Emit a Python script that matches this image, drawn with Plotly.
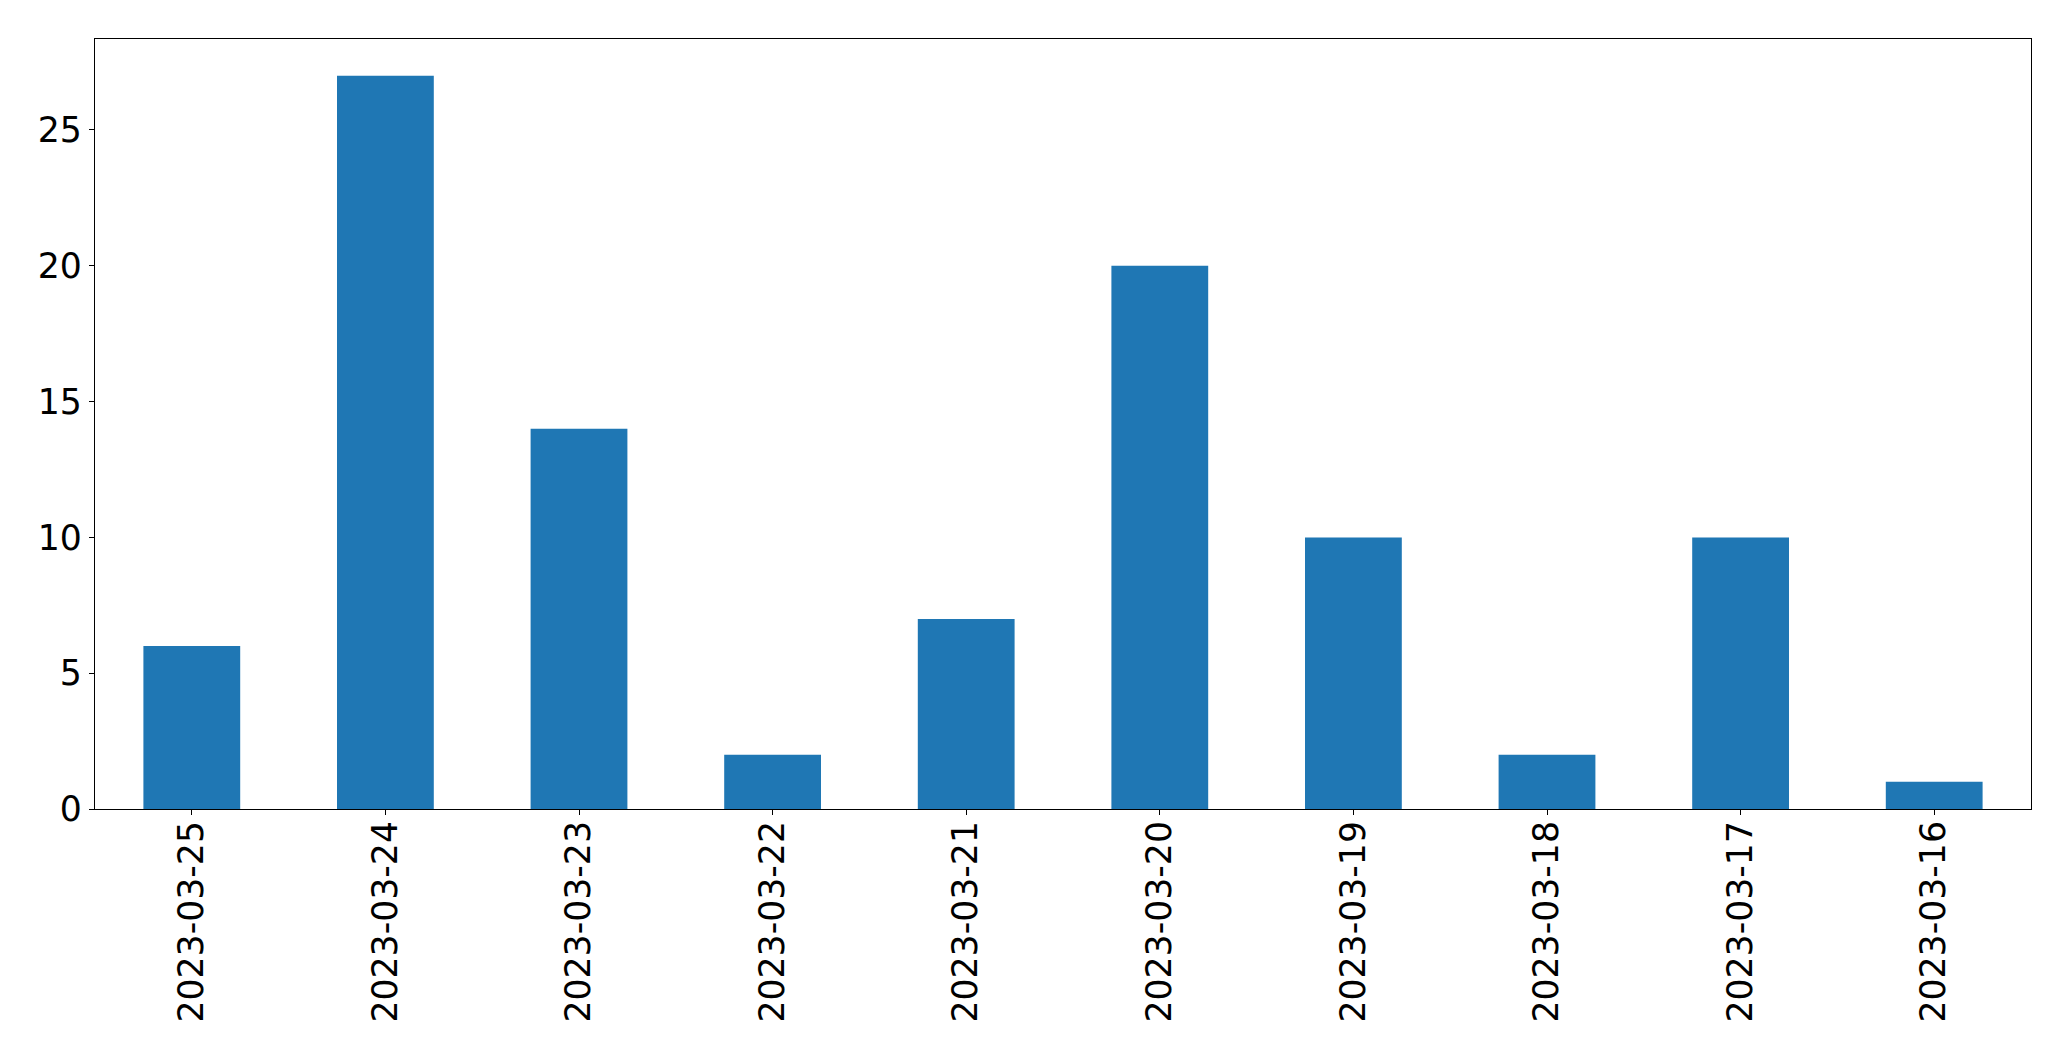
import plotly.graph_objects as go

dates = ["2023-03-25", "2023-03-24", "2023-03-23", "2023-03-22", "2023-03-21",
         "2023-03-20", "2023-03-19", "2023-03-18", "2023-03-17", "2023-03-16"]
counts = [6, 27, 14, 2, 7, 20, 10, 2, 10, 1]

fig = go.Figure(go.Bar(x=dates, y=counts, width=0.5, marker=dict(color="#1f77b4", line=dict(width=0))))

font = dict(family="DejaVu Sans", size=34.7, color="black")
fig.update_layout(
    width=2071, height=1061,
    margin=dict(l=87, r=48, t=31, b=260),
    paper_bgcolor="white", plot_bgcolor="white",
    showlegend=False,
    font=font,
)
fig.update_xaxes(type="category", range=[-0.5, 9.5], tickangle=-90,
                 showline=True, linecolor="black", linewidth=1.3, mirror=True,
                 ticks="outside", ticklen=5, tickwidth=1.3, tickcolor="black",
                 ticklabelstandoff=-8,
                 showgrid=False, zeroline=False, tickfont=font)
fig.update_yaxes(range=[0, 28.35], dtick=5, tick0=0,
                 showline=True, linecolor="black", linewidth=1.3, mirror=True,
                 ticks="outside", ticklen=5, tickwidth=1.3, tickcolor="black",
                 showgrid=False, zeroline=False, tickfont=font)

fig.write_html("out.html")
